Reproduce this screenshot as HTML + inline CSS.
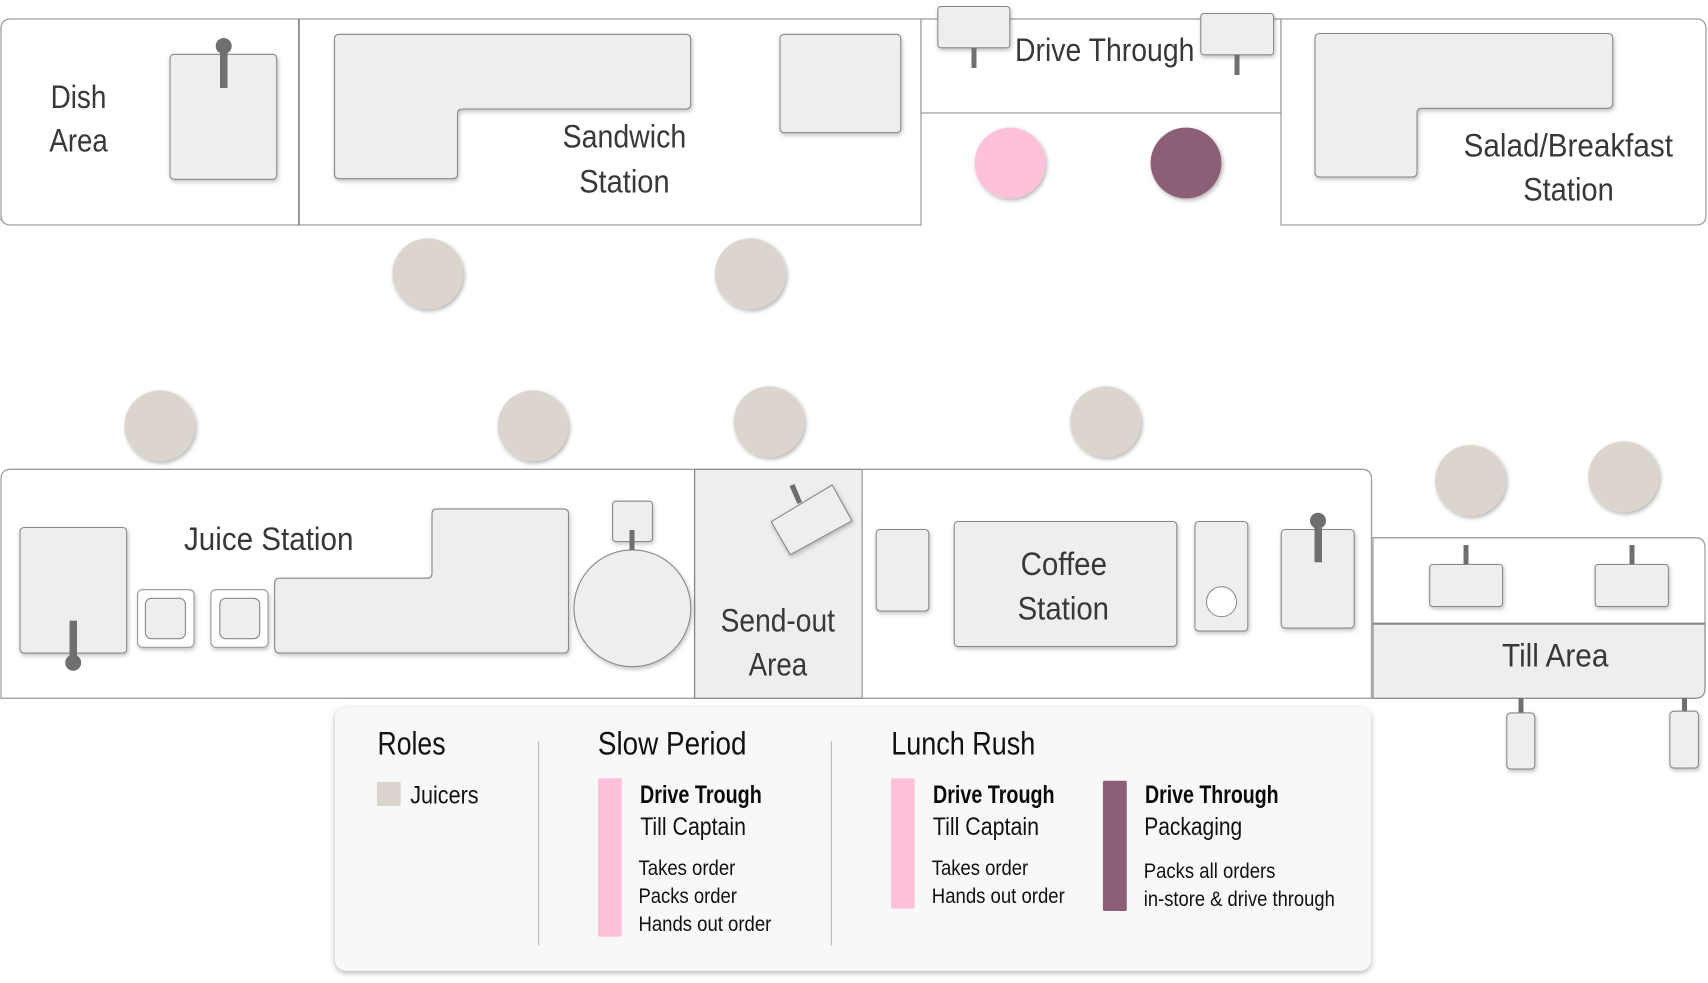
<!DOCTYPE html>
<html><head><meta charset="utf-8"><style>
html,body{margin:0;padding:0;background:#fff;width:1708px;height:983px;overflow:hidden}
svg{display:block}
text{font-family:"Liberation Sans Narrow","Liberation Sans",sans-serif}
.s{font-size:32px;fill:#383838}
.h{font-size:32px;fill:#111}
.b{font-size:25px;fill:#0a0a0a;font-weight:bold}
.m{font-size:25px;fill:#111}
.d{font-size:21.5px;fill:#111}
.t{fill:#eee;stroke:#888;stroke-width:1.1}
.o{fill:#fff;stroke:#a0a0a0;stroke-width:1.3}
</style></head><body>
<svg width="1708" height="983" viewBox="0 0 1708 983" xmlns="http://www.w3.org/2000/svg">
<defs><filter id="f" x="-30%" y="-30%" width="160%" height="160%"><feDropShadow dx="1" dy="2" stdDeviation="2" flood-color="#000" flood-opacity=".25"/></filter>
<filter id="c" x="-20%" y="-20%" width="150%" height="150%"><feDropShadow dx="1.5" dy="2" stdDeviation="2" flood-color="#000" flood-opacity=".3"/></filter>
<filter id="p" x="-10%" y="-10%" width="120%" height="120%"><feDropShadow dx="0" dy="2" stdDeviation="3" flood-color="#000" flood-opacity=".3"/></filter></defs>

<!-- top row -->
<path class="o" d="M299 19 H11 q-10 0 -10 10 V215 q0 10 -0 0 q0 10 10 10 H299z"/>
<rect class="o" x="299" y="19" width="622" height="206"/>
<path d="M299 19V225" stroke="#777" stroke-width="1.3"/>
<rect class="o" x="921" y="19" width="360" height="94"/>
<path class="o" d="M1281 19 H1696 q10 0 10 10 V215 q0 10 -10 10 H1281z"/>

<g filter="url(#f)">
<rect class="t" x="170" y="54.3" width="106.7" height="125" rx="4"/>
<path class="t" d="M339.5 34.3 H685.7 q5 0 5 5 V104 q0 5 -5 5 H462.5 q-5 0 -5 5 V173.7 q0 5 -5 5 H339.5 q-5 0 -5 -5 V39.3 q0 -5 5 -5z"/>
<rect class="t" x="780" y="34.3" width="120.7" height="98.4" rx="4"/>
<rect class="t" x="937.8" y="6.5" width="72" height="41.3" rx="3"/>
<rect class="t" x="1200.8" y="13.5" width="72.8" height="41.3" rx="3"/>
<path class="t" d="M1320 33.5 H1607.7 q5 0 5 5 V103.3 q0 5 -5 5 H1422 q-5 0 -5 5 V172 q0 5 -5 5 H1320 q-5 0 -5 -5 V38.5 q0 -5 5 -5z"/>
</g>
<g fill="#6f6f6f">
<rect x="220" y="50" width="7.5" height="38"/><circle cx="223.7" cy="46" r="8"/>
<rect x="971.5" y="48" width="5" height="20"/>
<rect x="1234.5" y="55" width="5" height="20"/>
</g>
<g filter="url(#c)">
<circle cx="427.7" cy="273.8" r="35.4" fill="#dbd5ce"/><circle cx="750.3" cy="273.8" r="35.4" fill="#dbd5ce"/>
<circle cx="1010" cy="163" r="35.4" fill="#ffc1da"/><circle cx="1186" cy="163" r="35.4" fill="#8d5f77"/>
<circle cx="159.8" cy="425.8" r="35.4" fill="#dbd5ce"/><circle cx="533" cy="425.8" r="35.4" fill="#dbd5ce"/>
<circle cx="769" cy="421.8" r="35.4" fill="#dbd5ce"/><circle cx="1105.5" cy="421.8" r="35.4" fill="#dbd5ce"/>
<circle cx="1470.5" cy="480.5" r="35.4" fill="#dbd5ce"/><circle cx="1623.7" cy="476.8" r="35.4" fill="#dbd5ce"/>
</g>

<!-- bottom row -->
<path class="o" d="M694.6 469.3 H11 q-10 0 -10 10 V698.3 H694.6z"/>
<rect x="694.6" y="469.3" width="167.6" height="229" fill="#eee" stroke="#888" stroke-width="1.3"/>
<path class="o" d="M862.2 469.3 H1361.5 q10 0 10 10 V698.3 H862.2z"/>
<path class="o" d="M1373 537.7 H1695 q10 0 10 10 V623.7 H1373z"/>
<path d="M1373 623.7 H1705 V688.3 q0 10 -10 10 H1373z" fill="#eee" stroke="#909090" stroke-width="1.3"/>
<path d="M1373 623.7 H1705" stroke="#888" stroke-width="2.2"/>

<g fill="#6f6f6f">
<rect x="1518.5" y="698" width="5" height="16"/><rect x="1682" y="698" width="5" height="14"/>
<rect x="1463.5" y="545" width="5" height="20"/><rect x="1629.5" y="545" width="5" height="20"/>
</g>
<g filter="url(#f)">
<rect class="t" x="20" y="527.5" width="106.7" height="125.6" rx="4"/>
<rect x="137.6" y="589.7" width="56.4" height="57.6" rx="5" fill="#fff" stroke="#999" stroke-width="1.1"/>
<rect x="210.9" y="589.7" width="57.1" height="57.6" rx="5" fill="#fff" stroke="#999" stroke-width="1.1"/>
<path class="t" d="M279.7 578.2 H427 q5 0 5 -5 V513.9 q0 -5 5 -5 H563.5 q5 0 5 5 V648 q0 5 -5 5 H279.7 q-5 0 -5 -5 V583.2 q0 -5 5 -5z"/>
<circle class="t" cx="632.4" cy="608.3" r="58.4"/>
<rect class="t" x="612.6" y="501.2" width="39.8" height="40.3" rx="3"/>
<path class="t" stroke-linejoin="round" d="M832.2 485 L852 520.7 L790.2 554.7 L771.2 521.7z"/>
<rect class="t" x="876.2" y="529.5" width="52.6" height="81.6" rx="4"/>
<rect class="t" x="954.2" y="521.5" width="222.6" height="125" rx="4"/>
<rect class="t" x="1194.9" y="521.5" width="52.9" height="109.6" rx="4"/>
<rect class="t" x="1281.2" y="529.5" width="73" height="98.6" rx="4"/>
<rect class="t" x="1429.7" y="564.5" width="72.9" height="42" rx="3"/>
<rect class="t" x="1595.2" y="564.5" width="73.2" height="42" rx="3"/>
<rect class="t" x="1506.8" y="712.9" width="28" height="56.2" rx="4"/>
<rect class="t" x="1669.9" y="711.2" width="28.6" height="56.9" rx="4"/>
</g>
<rect class="t" x="145.4" y="598.3" width="40" height="40.4" rx="6"/>
<rect class="t" x="219.8" y="598.3" width="39.9" height="40.4" rx="6"/>
<circle cx="1221.5" cy="601.7" r="15" fill="#fff" stroke="#888" stroke-width="1"/>
<g fill="#6f6f6f">
<rect x="69.5" y="620.7" width="7.5" height="36"/><circle cx="73.2" cy="662.7" r="8"/>
<rect x="629.5" y="530" width="5" height="20"/>
<path d="M789.5 486 L794.5 484 L802 502 L797.5 504z"/>
<rect x="1314.5" y="528" width="7.5" height="34.3"/><circle cx="1318" cy="520.7" r="8"/>
</g>

<!-- station labels -->
<text class="s" x="50.6" y="107.8" textLength="55.8" lengthAdjust="spacingAndGlyphs">Dish</text>
<text class="s" x="49.4" y="151.7" textLength="58.4" lengthAdjust="spacingAndGlyphs">Area</text>
<text class="s" x="562.6" y="147.7" textLength="123.6" lengthAdjust="spacingAndGlyphs">Sandwich</text>
<text class="s" x="579.2" y="192.3" textLength="90.4" lengthAdjust="spacingAndGlyphs">Station</text>
<text class="s" x="1015" y="61" textLength="179.4" lengthAdjust="spacingAndGlyphs">Drive Through</text>
<text class="s" x="1463.6" y="156.7" textLength="209.4" lengthAdjust="spacingAndGlyphs">Salad/Breakfast</text>
<text class="s" x="1523.2" y="200.4" textLength="90.6" lengthAdjust="spacingAndGlyphs">Station</text>
<text class="s" x="184" y="550" textLength="169.4" lengthAdjust="spacingAndGlyphs">Juice Station</text>
<text class="s" x="720.6" y="631.4" textLength="114.4" lengthAdjust="spacingAndGlyphs">Send-out</text>
<text class="s" x="748.6" y="675.4" textLength="58.6" lengthAdjust="spacingAndGlyphs">Area</text>
<text class="s" x="1020.6" y="575" textLength="86.4" lengthAdjust="spacingAndGlyphs">Coffee</text>
<text class="s" x="1017.6" y="619.3" textLength="91.4" lengthAdjust="spacingAndGlyphs">Station</text>
<text class="s" x="1502" y="666.4" textLength="106.4" lengthAdjust="spacingAndGlyphs">Till Area</text>

<!-- legend -->
<rect x="335" y="707.3" width="1036" height="263.4" rx="11" fill="#f8f8f8" filter="url(#p)"/>
<path d="M538.7 741V945.7M831.3 741V945.7" stroke="#b5b5b5" stroke-width="1"/>
<g transform="translate(-0.8,0)">
<text class="h" x="378.3" y="754.6" textLength="68" lengthAdjust="spacingAndGlyphs">Roles</text>
<text class="h" x="598.7" y="754.6" textLength="148.6" lengthAdjust="spacingAndGlyphs">Slow Period</text>
<text class="h" x="892" y="754.6" textLength="144" lengthAdjust="spacingAndGlyphs">Lunch Rush</text>
<text class="m" x="411" y="803.3" textLength="68.4" lengthAdjust="spacingAndGlyphs">Juicers</text>
<text class="b" x="640.8" y="803" textLength="121.8" lengthAdjust="spacingAndGlyphs">Drive Trough</text>
<text class="m" x="641" y="835" textLength="105.8" lengthAdjust="spacingAndGlyphs">Till Captain</text>
<text class="d" x="639.3" y="875" textLength="96.8" lengthAdjust="spacingAndGlyphs">Takes order</text>
<text class="d" x="639.3" y="903" textLength="98.4" lengthAdjust="spacingAndGlyphs">Packs order</text>
<text class="d" x="639.3" y="931" textLength="132.8" lengthAdjust="spacingAndGlyphs">Hands out order</text>
<text class="b" x="933.8" y="803" textLength="121.6" lengthAdjust="spacingAndGlyphs">Drive Trough</text>
<text class="m" x="933.6" y="835" textLength="106.2" lengthAdjust="spacingAndGlyphs">Till Captain</text>
<text class="d" x="932.6" y="875" textLength="96.4" lengthAdjust="spacingAndGlyphs">Takes order</text>
<text class="d" x="932.6" y="903" textLength="133" lengthAdjust="spacingAndGlyphs">Hands out order</text>
<text class="b" x="1145.8" y="803" textLength="133.6" lengthAdjust="spacingAndGlyphs">Drive Through</text>
<text class="m" x="1145" y="835" textLength="98" lengthAdjust="spacingAndGlyphs">Packaging</text>
<text class="d" x="1144.6" y="878" textLength="131.6" lengthAdjust="spacingAndGlyphs">Packs all orders</text>
<text class="d" x="1144.6" y="906" textLength="191" lengthAdjust="spacingAndGlyphs">in-store &amp; drive through</text>
</g>
<rect x="377" y="782" width="23.7" height="24" rx="1.5" fill="#dbd5ce"/>
<rect x="598" y="778.3" width="23.7" height="158.4" rx="1.5" fill="#ffc1da"/>
<rect x="891" y="778.3" width="23.6" height="130.4" rx="1.5" fill="#ffc1da"/>
<rect x="1102.9" y="780.7" width="23.9" height="130.3" rx="1.5" fill="#8d5f77"/>
</svg>
</body></html>
